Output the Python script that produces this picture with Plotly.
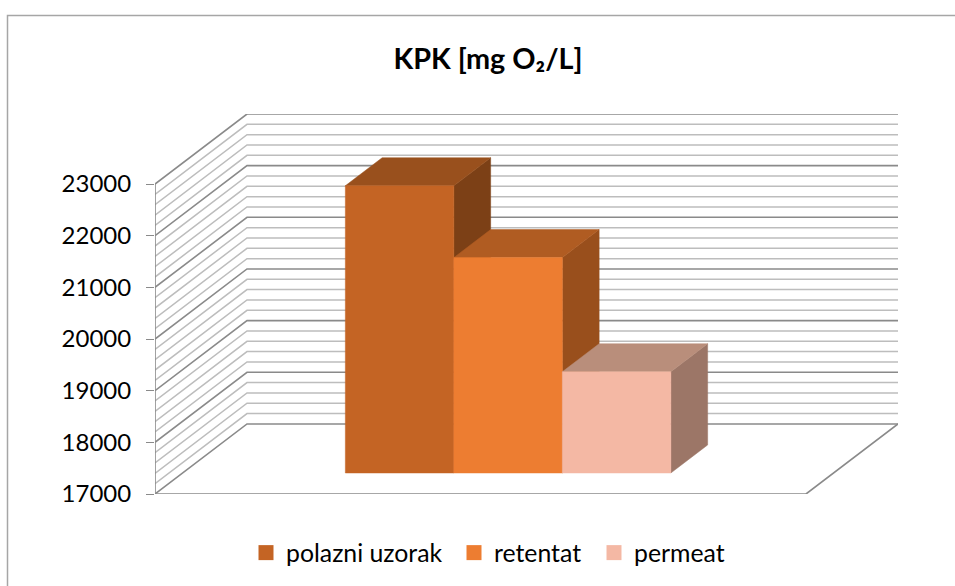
import plotly.graph_objects as go

TITLE = "KPK [mg O₂/L]"
SERIES = ["polazni uzorak", "retentat", "permeat"]
VALUES = [22560, 21170, 18960]
FRONT = ["#C46424", "#ED7D31", "#F4B8A4"]
TOP = ["#99501D", "#B05C22", "#B98E7B"]
SIDE = ["#7C4016", "#994F1C", "#9C7667"]
TICKS = [17000, 18000, 19000, 20000, 21000, 22000, 23000]
MINOR_STEP = 200
FONT = "Lato"

W, H = 955, 586
L, R, T, B = 155, 898, 114, 494
FLOOR_W = 6.0
DX = 92 / (651 / FLOOR_W)
DY = 70 / 51.6 * 1000
Y0, Y1 = TICKS[0], TICKS[-1]
D0, D1 = 0.3, 0.7
LEGEND_X = [252, 460, 600]


def proj(x, d, v):
    return x + d * DX, v + d * DY


def line(pts, color, width):
    xs, ys = zip(*[proj(*p) for p in pts])
    return go.Scatter(x=xs, y=ys, mode="lines", line=dict(color=color, width=width),
                      showlegend=False, hoverinfo="skip")


def face(pts, color):
    xs, ys = zip(*[proj(*p) for p in pts + pts[:1]])
    return go.Scatter(x=xs, y=ys, mode="lines", fill="toself", fillcolor=color,
                      line=dict(color=color, width=0.5), showlegend=False, hoverinfo="skip")


fig = go.Figure()
v = Y0 + MINOR_STEP
while v <= Y1:
    if v % 1000:
        fig.add_trace(line([(0, 0, v), (0, 1, v), (FLOOR_W, 1, v)], "#BDBDBD", 1.5))
    v += MINOR_STEP
for t in TICKS:
    fig.add_trace(line([(0, 0, t), (0, 1, t), (FLOOR_W, 1, t)], "#8A8A8A", 1.6))
fig.add_trace(line([(0, 0, Y0), (FLOOR_W, 0, Y0), (FLOOR_W, 1, Y0)], "#8A8A8A", 1.6))
fig.add_trace(line([(0, 0, Y0), (0, 0, Y1)], "#8A8A8A", 1.6))

for i, (val, f, t, s) in enumerate(zip(VALUES, FRONT, TOP, SIDE)):
    x0, x1 = 1.5 + i, 2.5 + i
    fig.add_trace(face([(x1, D0, Y0), (x1, D1, Y0), (x1, D1, val), (x1, D0, val)], s))
    fig.add_trace(face([(x0, D0, val), (x1, D0, val), (x1, D1, val), (x0, D1, val)], t))
    fig.add_trace(face([(x0, D0, Y0), (x1, D0, Y0), (x1, D0, val), (x0, D0, val)], f))


def px(x):
    return (x - L) / (R - L)


def py(y):
    return (B - y) / (B - T)


legends = {}
for i, (name, c, lx) in enumerate(zip(SERIES, FRONT, LEGEND_X)):
    key = "legend" if i == 0 else f"legend{i + 1}"
    fig.add_trace(go.Scatter(x=[None], y=[None], mode="markers", name=name, legend=key,
                             marker=dict(symbol="square", size=15, color=c)))
    legends[key] = dict(orientation="h", x=px(lx), xanchor="left", y=py(553), yanchor="middle",
                        font=dict(family=FONT, size=24.8, color="black"), itemwidth=30,
                        indentation=-6, bgcolor="rgba(0,0,0,0)")

fig.update_layout(
    width=W, height=H, autosize=False,
    paper_bgcolor="white", plot_bgcolor="white",
    margin=dict(l=L, r=W - R, t=T, b=H - B, pad=0, autoexpand=False),
    title=dict(text=TITLE, x=488 / W, xanchor="center", y=1 - 59 / H, yanchor="middle",
               font=dict(family=FONT, size=28.8, color="black", weight="bold")),
    xaxis=dict(range=[0, FLOOR_W + DX], visible=False, fixedrange=True),
    yaxis=dict(range=[Y0, Y1 + DY], tickvals=TICKS, tickformat="d", ticks="outside", ticklen=8,
               tickwidth=1.4, tickcolor="#8A8A8A", showgrid=False, zeroline=False,
               showline=False, tickfont=dict(family=FONT, size=24, color="black"),
               ticklabelstandoff=10, fixedrange=True, automargin=False),
    showlegend=True,
    shapes=[dict(type="rect", xref="paper", yref="paper", x0=px(7.5), x1=px(975),
                 y0=py(600), y1=py(15.5), line=dict(color="#A6A6A6", width=1.5),
                 fillcolor="rgba(0,0,0,0)", layer="below")],
    **legends,
)
fig.write_html("out.html", config={"displayModeBar": False},
               post_script="document.body.style.margin='0';document.documentElement.style.overflow='hidden';")
